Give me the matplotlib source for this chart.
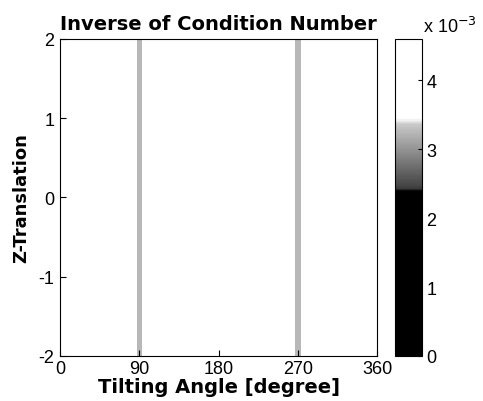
import numpy as np
import matplotlib
matplotlib.use("Agg")
import matplotlib.pyplot as plt
from matplotlib.colors import LinearSegmentedColormap

# data: inverse condition number depends only on tilting angle
angle_edges = [0, 87, 93, 267, 273, 360]  # [degree]
z_edges = [-2, 2]
icn_values = [4.6e-3, 3.25e-3, 4.6e-3, 3.25e-3, 4.6e-3]

plt.rcParams["font.family"] = ["Liberation Sans", "DejaVu Sans"]
plt.rcParams["axes.unicode_minus"] = False

# scanned-looking gray map: black, short gray ramp, then white
cmap = LinearSegmentedColormap.from_list(
    "scan_gray",
    [(0.0, "#000000"), (0.52, "#000000"), (0.53, "#404040"),
     (0.73, "#c8c8c8"), (0.75, "#ffffff"), (1.0, "#ffffff")])

fig = plt.figure(figsize=(4.83, 4.02), dpi=100)
ax = fig.add_axes([0.124, 0.112, 0.657, 0.789])
cax = fig.add_axes([0.818, 0.112, 0.056, 0.789])

C = np.array([icn_values])
mesh = ax.pcolormesh(angle_edges, z_edges, C, cmap=cmap, vmin=0, vmax=4.6e-3)

label_font = dict(family="DejaVu Sans", fontweight="bold")
ax.set_xlim(0, 360)
ax.set_ylim(-2, 2)
ax.set_xticks([0, 90, 180, 270, 360])
ax.set_yticks([-2, -1, 0, 1, 2])
ax.tick_params(direction="in", labelsize=13, length=4)
ax.tick_params(axis="x", pad=3)
ax.tick_params(axis="y", pad=4)
ax.set_title("Inverse of Condition Number", fontsize=14, pad=7, **label_font)
ax.set_xlabel("Tilting Angle [degree]", fontsize=14, labelpad=0, **label_font)
ax.set_ylabel("Z-Translation", fontsize=13, labelpad=6, **label_font)

cb = fig.colorbar(mesh, cax=cax, ticks=[0, 1e-3, 2e-3, 3e-3, 4e-3])
cb.ax.set_yticklabels(["0", "1", "2", "3", "4"])
cb.ax.tick_params(direction="in", labelsize=13, length=3, pad=3)
cb.outline.set_linewidth(0.8)
fig.text(0.876, 0.918, r"x 10$^{-3}$", fontsize=13, va="baseline")

fig.savefig("out.png", dpi=100)
